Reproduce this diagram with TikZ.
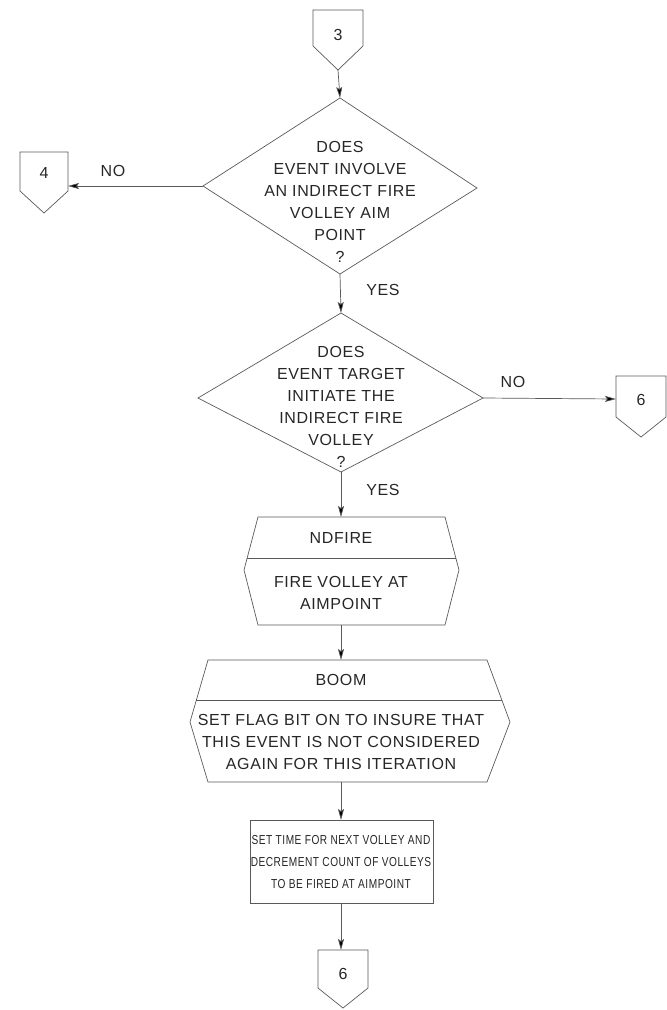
\documentclass[tikz,border=0pt]{standalone}
\usepackage{fontspec}
\setmainfont{Liberation Sans}[LetterSpace=4]
\newfontfamily\condfont{Liberation Sans}[LetterSpace=4,FakeStretch=0.78]
\usetikzlibrary{arrows.meta,calc}
\begin{document}
\begin{tikzpicture}[x=1pt,y=-1pt,
  line/.style={draw=black!65, line width=0.7pt},
  arr/.style={line, -{Stealth[length=11pt,width=6pt,inset=2pt,fill=black]}},
  txt/.style={font=\fontsize{16}{22}\selectfont, text=black!85, align=center, inner sep=0pt, anchor=north},
  condtxt/.style={txt, font=\condfont\fontsize{13}{22}\selectfont},
]
\useasboundingbox (0,0) rectangle (667,1010);

% ---- connector 3 (top)
\draw[line] (313,10) -- (363,10) -- (363,46) -- (338,70) -- (313,46) -- cycle;
\node[txt] (c3) at (338,29) {3};
\coordinate (c3p) at (338,70);

% ---- diamond 1
\coordinate (d1t) at (340,98);
\coordinate (d1l) at (203,186);
\coordinate (d1r) at (477,188);
\coordinate (d1b) at (340,274);
\draw[line] (d1t) -- (d1r) -- (d1b) -- (d1l) -- cycle;
\node[txt] (d1) at (340,141) {DOES\\EVENT INVOLVE\\AN INDIRECT FIRE\\VOLLEY AIM\\POINT\\?};

% ---- connector 4 (left)
\draw[line] (20,152) -- (68,152) -- (68,191) -- (44,213) -- (20,191) -- cycle;
\node[txt] (c4) at (44,167) {4};
\coordinate (c4s) at (68,186);
\node[txt] (no1) at (113,165) {NO};

% ---- diamond 2
\coordinate (d2t) at (341,313);
\coordinate (d2l) at (198,398);
\coordinate (d2r) at (483,398);
\coordinate (d2b) at (341,472);
\draw[line] (d2t) -- (d2r) -- (d2b) -- (d2l) -- cycle;
\node[txt] (d2) at (341,346) {DOES\\EVENT TARGET\\INITIATE THE\\INDIRECT FIRE\\VOLLEY\\?};
\node[txt] (yes1) at (383,284) {YES};

% ---- connector 6 (right)
\draw[line] (616,376) -- (666,376) -- (666,417) -- (641,437) -- (616,417) -- cycle;
\node[txt] (c6a) at (641,394) {6};
\coordinate (c6s) at (616,399);
\node[txt] (no2) at (513,376) {NO};
\node[txt] (yes2) at (383,484) {YES};

% ---- NDFIRE box
\coordinate (n1t) at (341,517);
\coordinate (n1b) at (341,625);
\draw[line] (258,517) -- (445,517) -- (459,570) -- (445,625) -- (258,625) -- (244,570) -- cycle;
\draw[line] (247.2,558) -- (455.8,558);
\node[txt] (ndfire) at (341,532) {NDFIRE};
\node[txt] (ndtxt) at (341,576) {FIRE VOLLEY AT\\AIMPOINT};

% ---- BOOM box
\coordinate (b1t) at (341,660);
\coordinate (b1b) at (341,782);
\draw[line] (208,660) -- (487,660) -- (510,722) -- (487,782) -- (208,782) -- (190,722) -- cycle;
\draw[line] (196.4,700) -- (501.8,700);
\node[txt] (boom) at (341,674) {BOOM};
\node[txt] (boomtxt) at (341,714) {SET FLAG BIT ON TO INSURE THAT\\THIS EVENT IS NOT CONSIDERED\\AGAIN FOR THIS ITERATION};

% ---- last box
\node[condtxt] (settxt) at (341,835) {SET TIME FOR NEXT VOLLEY AND\\DECREMENT COUNT OF VOLLEYS\\TO BE FIRED AT AIMPOINT};
\coordinate (s1t) at (341,820);
\coordinate (s1b) at (341,903);
\draw[line] (250,820) rectangle (433,903);

% ---- connector 6 (bottom)
\draw[line] (318,950) -- (368,950) -- (368,988) -- (343,1008) -- (318,988) -- cycle;
\node[txt] (c6b) at (343,968) {6};
\coordinate (c6t) at (341,950);

% ---- connectors
\draw[arr] (c3p) -- (d1t);
\draw[arr] (d1l) -- (c4s);
\draw[arr] (d1b) -- (d2t);
\draw[arr] (d2r) -- (c6s);
\draw[arr] (d2b) -- (n1t);
\draw[arr] (n1b) -- (b1t);
\draw[arr] (b1b) -- (s1t);
\draw[arr] (s1b) -- (c6t);
\end{tikzpicture}
\end{document}
